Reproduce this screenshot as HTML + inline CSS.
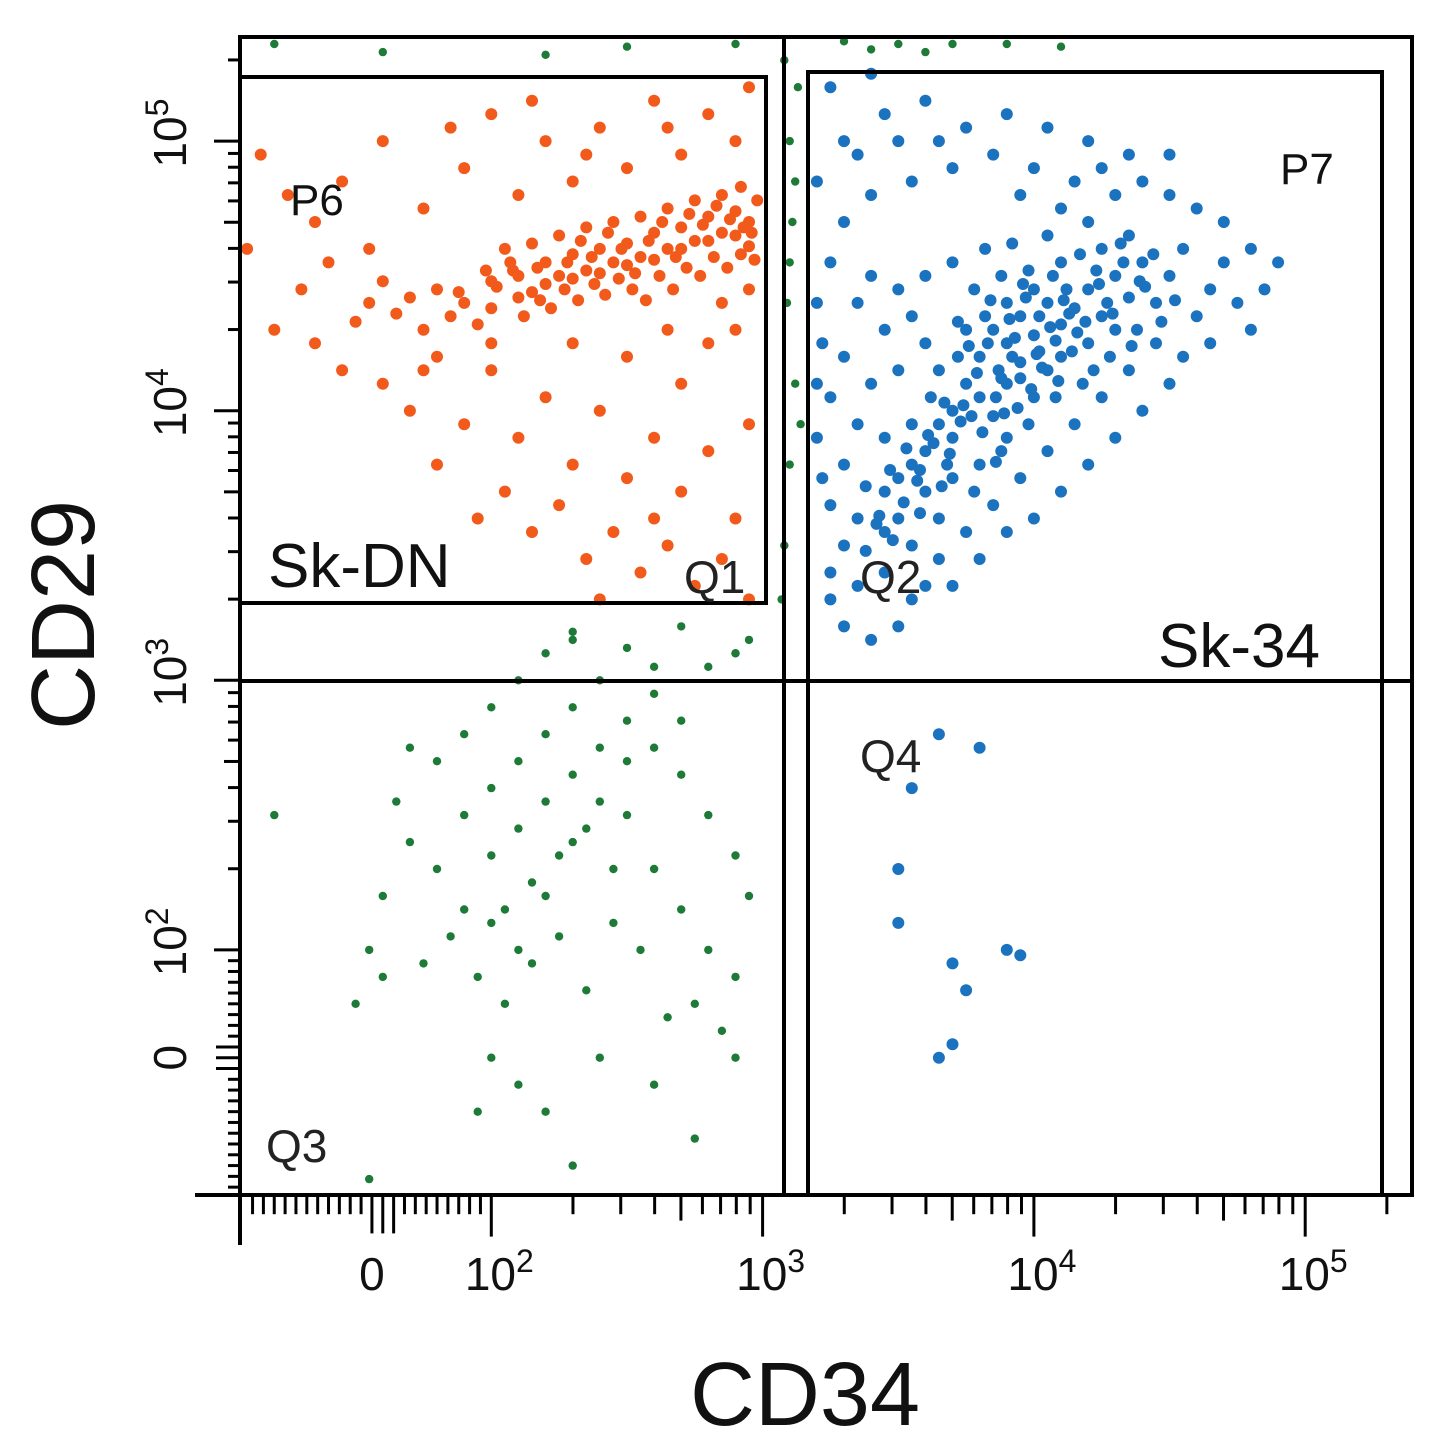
<!DOCTYPE html>
<html><head><meta charset="utf-8"><style>
html,body{margin:0;padding:0;background:#fff;}
svg{display:block;font-family:"Liberation Sans",sans-serif;}
</style></head><body>
<svg id="chart" width="1438" height="1441" viewBox="0 0 1438 1441" xmlns="http://www.w3.org/2000/svg">
<g id="ticks"></g>
<g id="dots"></g>
<g id="gates" fill="none" stroke="#000" stroke-width="4">
<rect x="240" y="37" width="1172" height="1158"/>
<rect x="240" y="77" width="526" height="526"/>
<rect x="808" y="72" width="574" height="1123"/>
<line x1="784" y1="37" x2="784" y2="1195"/>
<line x1="240" y1="681" x2="1412" y2="681"/>
</g>
<g fill="#111">
<text x="290" y="215" font-size="44">P6</text>
<text x="268" y="587" font-size="62">Sk-DN</text>
<text x="684" y="593" font-size="46" fill="#222">Q1</text>
<text x="860" y="593" font-size="46" fill="#222">Q2</text>
<text x="1158" y="667" font-size="62">Sk-34</text>
<text x="1280" y="184" font-size="44">P7</text>
<text x="860" y="772" font-size="46" fill="#222">Q4</text>
<text x="266" y="1162" font-size="46" fill="#222">Q3</text>
<text x="805" y="1425" font-size="90" text-anchor="middle">CD34</text>
<text transform="translate(94,615) rotate(-90)" font-size="90" text-anchor="middle">CD29</text>
</g>
<g id="ticklabels" fill="#111"></g>
</svg>
<script>
const xOrange=[1.7,1.8,1.9,2.0,2.1,2.15,2.2,2.25,2.3,2.35,2.4,2.45,2.5,2.55,2.6,2.65,2.7,2.75,2.8,2.85,2.9,2.95,2.98,2.0,2.1,2.2,2.3,2.4,2.5,2.6,2.7,2.8,2.9,2.95,1.85,1.95,2.05,2.15,2.25,2.35,2.45,2.55,2.65,2.75,2.85,2.92,2.62,2.72,2.82,2.92,2.52,2.42,2.32,2.22,2.12,1.75,1.65,1.6,1.55,1.5,1.15,1.25,1.35,1.45,1.6,1.75,1.9,2.0,2.1,2.2,2.3,2.4,2.5,2.6,2.7,2.8,2.9,2.95,2.65,2.35,2.15,1.85,1.55,1.4,1.3,1.2,1.1,1.35,1.45,1.6,1.7,1.8,1.9,2.0,2.1,2.2,2.3,2.4,2.5,2.6,2.7,2.8,2.9,2.95,2.05,2.15,2.25,2.35,2.45,2.55,2.65,2.75,2.85,2.95,2.6,2.4,1.95,1.8,2.7,2.8,2.9,2.5,2.3,2.0,1.75,2.65,2.85,2.95,
2.02,2.08,2.18,2.28,2.38,2.48,2.58,2.68,2.78,2.88,2.96,2.33,2.43,2.53,2.63,2.73,2.83,2.93,2.57,2.67,2.77,2.87,2.97,2.47,2.37,1.88,1.98,2.27,2.17,2.07];
const yOrange=[4.42,4.45,4.40,4.48,4.50,4.44,4.55,4.50,4.58,4.52,4.60,4.55,4.62,4.57,4.66,4.60,4.68,4.63,4.72,4.66,4.74,4.70,4.78,4.38,4.42,4.47,4.49,4.51,4.54,4.56,4.60,4.63,4.65,4.61,4.35,4.32,4.60,4.62,4.65,4.68,4.70,4.72,4.75,4.78,4.80,4.83,4.50,4.53,4.57,4.58,4.45,4.43,4.41,4.38,4.35,4.30,4.36,4.48,4.40,4.33,4.95,4.8,4.7,4.85,5.0,4.75,4.9,5.1,4.8,5.0,4.85,5.05,4.9,5.15,4.95,5.1,5.0,5.2,5.05,4.95,5.15,5.05,4.6,4.55,4.45,4.3,4.6,4.25,4.15,4.1,4.0,4.2,3.95,4.15,3.9,4.05,3.8,4.0,3.75,3.9,3.7,3.85,3.6,3.95,3.7,3.55,3.65,3.45,3.55,3.4,3.5,3.35,3.45,3.3,3.6,3.3,3.6,3.8,4.1,4.25,4.3,4.2,4.25,4.25,4.15,4.3,4.4,4.45,
4.46,4.52,4.41,4.55,4.47,4.6,4.63,4.57,4.69,4.71,4.66,4.63,4.66,4.51,4.7,4.73,4.76,4.68,4.41,4.45,4.5,4.53,4.56,4.49,4.57,4.44,4.52,4.45,4.53,4.55];
const xBlue=[3.8,3.85,3.9,3.95,4.0,4.05,4.1,3.9,3.95,4.0,4.1,4.15,4.2,4.25,4.3,3.75,3.7,3.65,3.6,3.7,3.8,3.85,3.9,3.75,3.65,3.55,3.6,3.5,3.55,3.45,3.65,3.7,3.8,3.9,4.0,4.05,4.2,4.3,4.35,4.4,4.25,4.1,3.98,3.88,3.78,4.45,4.5,4.55,4.35,4.2,4.05,3.92,3.82,3.7,3.6,3.5,3.4,3.35,3.45,3.55,3.6,3.5,3.4,3.3,3.25,3.35,3.45,3.3,3.25,3.35,3.45,3.55,3.65,3.75,3.85,3.95,4.05,4.15,4.25,4.35,4.45,4.6,4.65,4.7,4.75,4.8,4.7,4.6,4.5,4.4,4.3,4.15,4.0,3.85,3.7,3.55,3.4,3.3,3.25,3.2,3.22,3.2,3.2,3.22,3.3,3.25,3.35,3.45,3.55,3.7,3.8,3.9,4.0,4.1,4.2,4.3,4.4,4.5,4.55,4.85,4.9,4.8,4.65,3.3,3.45,3.6,3.75,3.9,4.05,4.2,4.35,4.5,3.25,3.4,3.2,3.35,3.5,3.65,3.95,4.1,4.25,3.3,3.4,3.25,3.5,3.6,3.5,3.62,3.72,3.82,3.92,4.02,4.12,4.22,3.68,3.78,3.88,3.98,4.08,4.18,4.28,4.38,3.58,3.48,3.38,3.95,4.02,3.87,3.83,3.97,4.07,4.17,4.27,4.33,3.55,3.65,3.8,3.5,3.5,3.7,3.75,3.9,3.95,3.65,3.7,
3.72,3.76,3.84,3.88,3.93,3.96,4.03,4.08,4.13,4.16,4.23,3.74,3.79,3.86,3.91,4.01,4.06,4.11,4.19,4.24,3.63,3.67,3.73,3.81,3.89,3.99,4.09,4.14,3.57,3.61,3.69,3.77,3.86,3.94,3.52,3.58,3.66,3.43,3.47,3.53,3.38,3.42,4.29,4.36,4.41,4.47,4.32,4.39,4.44,4.52];
const yBlue=[4.2,4.3,4.25,4.35,4.28,4.4,4.32,4.4,4.18,4.45,4.2,4.38,4.45,4.35,4.5,4.1,4.0,3.95,3.85,3.9,4.05,3.98,4.1,4.3,4.15,3.8,3.7,3.75,3.95,3.7,3.6,3.75,3.8,3.9,4.05,4.15,4.25,4.3,4.42,4.55,4.6,4.55,4.52,4.5,4.45,4.4,4.5,4.6,4.65,4.7,4.65,4.62,4.6,4.55,4.5,4.45,4.5,4.4,4.3,4.35,4.25,4.15,4.1,4.2,4.05,3.95,3.9,3.8,3.65,3.6,3.55,3.5,3.45,3.55,3.65,3.75,3.85,3.95,4.05,4.15,4.25,4.35,4.45,4.55,4.4,4.6,4.7,4.75,4.8,4.85,4.8,4.85,4.9,4.95,4.9,4.85,4.8,4.7,4.55,4.4,4.25,4.1,3.9,3.75,3.5,3.4,3.35,3.4,3.3,3.35,3.45,3.55,3.6,3.7,3.8,3.9,4.0,4.1,4.2,4.45,4.55,4.3,4.25,5.0,5.1,5.15,5.05,5.1,5.05,5.0,4.95,4.95,5.2,5.25,4.85,4.95,5.0,5.0,4.8,4.75,4.9,3.2,3.15,3.3,3.2,3.35,3.6,4.05,4.2,4.35,4.2,4.35,4.45,4.15,3.8,3.7,3.85,3.95,4.05,4.1,4.2,4.3,3.62,3.52,3.48,4.12,4.22,4.15,4.25,4.42,4.5,4.58,4.4,4.55,2.6,2.8,2.75,2.3,2.1,1.95,1.85,2.0,1.98,1.6,1.65,
4.33,4.24,4.41,4.12,4.27,4.47,4.16,4.26,4.36,4.29,4.52,4.02,4.14,4.05,4.34,4.21,4.31,4.41,4.33,4.47,3.88,4.03,3.96,3.92,3.99,4.08,4.11,4.22,3.74,3.91,3.84,3.98,3.81,4.01,3.66,3.78,3.72,3.61,3.78,3.86,3.72,3.58,4.36,4.24,4.46,4.33,4.62,4.48,4.58,4.41];
const xGreen=[1.6,1.55,1.7,1.8,1.9,2.0,2.1,2.2,2.3,2.4,2.5,2.6,2.7,2.8,2.9,2.95,2.0,2.1,2.2,2.3,2.4,2.5,2.6,2.7,2.8,2.9,1.85,1.95,2.05,2.15,2.25,2.35,2.45,2.55,2.65,2.75,2.85,1.75,1.9,2.0,2.1,2.2,2.3,2.4,2.5,2.6,2.7,2.8,2.9,2.1,2.2,2.3,2.0,1.9,1.8,1.7,1.65,2.15,2.25,2.35,2.45,2.05,2.0,2.1,2.2,1.95,2.4,2.6,2.9,2.75,1.5,1.6,2.3,1.55,1.2,3.08,3.1,3.12,3.09,3.11,3.1,3.13,3.07,3.14,3.1,3.12,3.08,1.2,1.6,2.2,2.5,2.9,3.3,3.5,3.7,3.9,4.1,3.6,3.4,2.3,2.5,2.7,2.9,2.95,2.6];
const yGreen=[2.2,2.0,2.4,2.3,2.5,2.6,2.7,2.8,2.9,3.0,2.85,2.75,2.65,2.5,2.35,2.2,2.1,2.0,2.2,2.4,2.55,2.5,2.3,2.15,2.0,1.9,2.05,1.9,1.8,1.95,2.05,1.85,2.1,2.0,1.75,1.8,1.7,1.95,2.15,2.35,2.45,2.55,2.65,2.75,2.7,2.95,2.85,3.05,3.1,3.0,3.1,3.15,2.9,2.8,2.7,2.75,2.55,2.25,2.35,2.45,2.3,2.15,1.6,1.5,1.4,1.4,1.6,1.5,1.6,1.3,1.8,1.9,1.2,1.15,2.5,3.5,3.8,4.1,4.4,4.7,5.0,5.2,3.3,3.95,4.55,4.85,5.3,5.36,5.33,5.32,5.35,5.36,5.37,5.36,5.36,5.36,5.35,5.33,5.34,3.18,3.12,3.2,3.1,3.15,3.05];
const xTickVals=[1.56,2,3,4,5];
const xTickLabels=["0","10|2","10|3","10|4","10|5"];
const yTickVals=[1.6,2,3,4,5];
const yTickLabels=["0","10|2","10|3","10|4","10|5"];

function xs(d){return 898.25+271.3*(d-3.5);}
function ys(d){return 545.5-269.6*(d-3.5);}
const NS="http://www.w3.org/2000/svg";
function mk(tag,attrs,parent){const e=document.createElementNS(NS,tag);for(const k in attrs)e.setAttribute(k,attrs[k]);parent.appendChild(e);return e;}
const dots=document.getElementById('dots');
function drawSeries(xv,yv,color,name,r){
  for(let i=0;i<xv.length;i++){
    const c=mk('circle',{cx:xs(xv[i]).toFixed(1),cy:ys(yv[i]).toFixed(1),r:r,fill:color},dots);
    
    
  }
}
drawSeries(xOrange,yOrange,'#f25a1c','event-orange',6);
drawSeries(xBlue,yBlue,'#1b72bf','event-blue',6);
drawSeries(xGreen,yGreen,'#1e7a37','event-green',4.2);

const tk=document.getElementById('ticks');
let l=mk('line',{x1:195,y1:1195,x2:1412,y2:1195,stroke:'#000','stroke-width':4},tk);


l=mk('line',{x1:240,y1:37,x2:240,y2:1245,stroke:'#000','stroke-width':4},tk);


function tickSet(){
  const s=[];
  for(let dec=2;dec<=5;dec++){s.push([dec,26]);for(let k=2;k<=9;k++){const v=dec+Math.log10(k);if(v<5.35)s.push([v,k==5?16:12]);}}
  for(let v=1.12;v<1.98;v+=0.04){s.push([v,(Math.abs(v-1.6)<0.06)?24:12]);}
  return s;
}
tickSet().forEach(t=>{
  const x=xs(t[0]);
  if(x>=240&&x<=1412){const e=mk('line',{x1:x,y1:1195,x2:x,y2:1195+t[1]*1.6,stroke:'#000','stroke-width':3},tk);
    
    }
  const y=ys(t[0]);
  if(y>=37&&y<=1195){const e=mk('line',{x1:240,y1:y,x2:240-t[1]*1.0,y2:y,stroke:'#000','stroke-width':3},tk);
    
    }
});
const tl=document.getElementById('ticklabels');
function label(parent,txt){
  const p=txt.split('|');
  const t1=document.createElementNS(NS,'tspan');t1.textContent=p[0];parent.appendChild(t1);
  if(p[1]){const t2=document.createElementNS(NS,'tspan');t2.setAttribute('font-size','32');t2.setAttribute('dy','-18');t2.textContent=p[1];parent.appendChild(t2);}
}
xTickVals.forEach((v,i)=>{
  const t=mk('text',{x:xs(v)+(i?8:0),y:1290,'font-size':46,'text-anchor':'middle'},tl);
  
  
  label(t,xTickLabels[i]);
});
yTickVals.forEach((v,i)=>{
  const t=mk('text',{transform:'translate(186,'+(ys(v)-(i?8:0))+') rotate(-90)','font-size':46,'text-anchor':'middle'},tl);
  
  
  label(t,yTickLabels[i]);
});
</script>
</body></html>
